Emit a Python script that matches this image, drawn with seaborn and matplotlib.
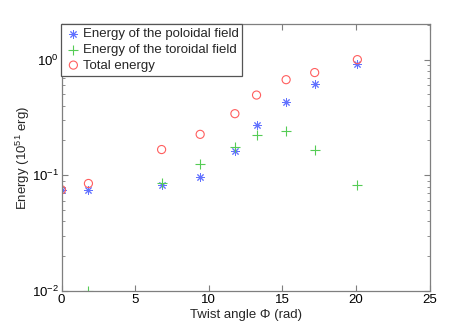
import numpy as np
import pandas as pd
import matplotlib
matplotlib.use('Agg')
import matplotlib.pyplot as plt
import seaborn as sns

# values
phi_pol = [0.0, 1.83, 6.8, 9.42, 11.78, 13.25, 15.26, 17.2, 20.1]
e_pol = [0.075, 0.074, 0.083, 0.097, 0.163, 0.272, 0.43, 0.61, 0.92]

phi_tor = [1.83, 6.8, 9.42, 11.78, 13.25, 15.26, 17.2, 20.1]
e_tor = [0.0101, 0.086, 0.126, 0.176, 0.222, 0.243, 0.164, 0.082]

phi_tot = [0.0, 1.83, 6.8, 9.42, 11.78, 13.25, 15.26, 17.2, 20.1]
e_tot = [0.075, 0.085, 0.167, 0.226, 0.341, 0.494, 0.671, 0.773, 1.0]

labels = ['Energy of the poloidal field', 'Energy of the toroidal field', 'Total energy']
x_ticks = [0, 5, 10, 15, 20, 25]

sns.set_style('ticks')
plt.rcParams['font.family'] = ['Liberation Sans', 'DejaVu Sans']
plt.rcParams['font.size'] = 9.5
plt.rcParams['mathtext.fontset'] = 'custom'
plt.rcParams['mathtext.rm'] = 'Liberation Sans'

axis_gray = '#7f7f7f'

fig = plt.figure(figsize=(4.74, 3.28), dpi=100)
ax = fig.add_axes([61.5 / 474, 1 - 291 / 328, (429.5 - 61.5) / 474, (291 - 24.3) / 328])

sns.scatterplot(x=phi_pol, y=e_pol, ax=ax, marker=(8, 2, 0), s=30,
                color='#6272ff', linewidth=0.7, label=labels[0])
sns.scatterplot(x=phi_tor, y=e_tor, ax=ax, marker='+', s=42,
                color='#55cc55', linewidth=0.8, label=labels[1])
sns.scatterplot(x=phi_tot, y=e_tot, ax=ax, marker='o', s=34,
                facecolors='none', edgecolor='#ff5e5e', linewidth=0.8, label=labels[2])

ax.set_yscale('log')
ax.set_xlim(0, 25)
ax.set_ylim(0.01, 2.02)
ax.set_xticks(x_ticks)
ax.set_xticklabels([str(t) for t in x_ticks])
ax.set_xlabel('Twist angle Φ (rad)', labelpad=2)
ax.set_ylabel('Energy (10$^{51}$ erg)', labelpad=0)

for sp in ax.spines.values():
    sp.set_color(axis_gray)
    sp.set_linewidth(0.9)
    sp.set_visible(True)
ax.tick_params(which='both', direction='in', top=True, right=True,
               color=axis_gray, labelcolor='black', labelsize=9.5, pad=2)
ax.tick_params(which='major', length=4)
ax.tick_params(which='minor', length=2)
ax.minorticks_on()
ax.xaxis.set_minor_locator(matplotlib.ticker.NullLocator())

leg = ax.legend(loc='upper left', borderaxespad=0, fancybox=False, framealpha=1,
                edgecolor='#555555', handletextpad=0.1, handlelength=1.2,
                borderpad=0.3, labelspacing=0.25, fontsize=9.5)
leg.get_frame().set_linewidth(0.9)
leg.set_zorder(5)

fig.savefig('out.png', dpi=100)
